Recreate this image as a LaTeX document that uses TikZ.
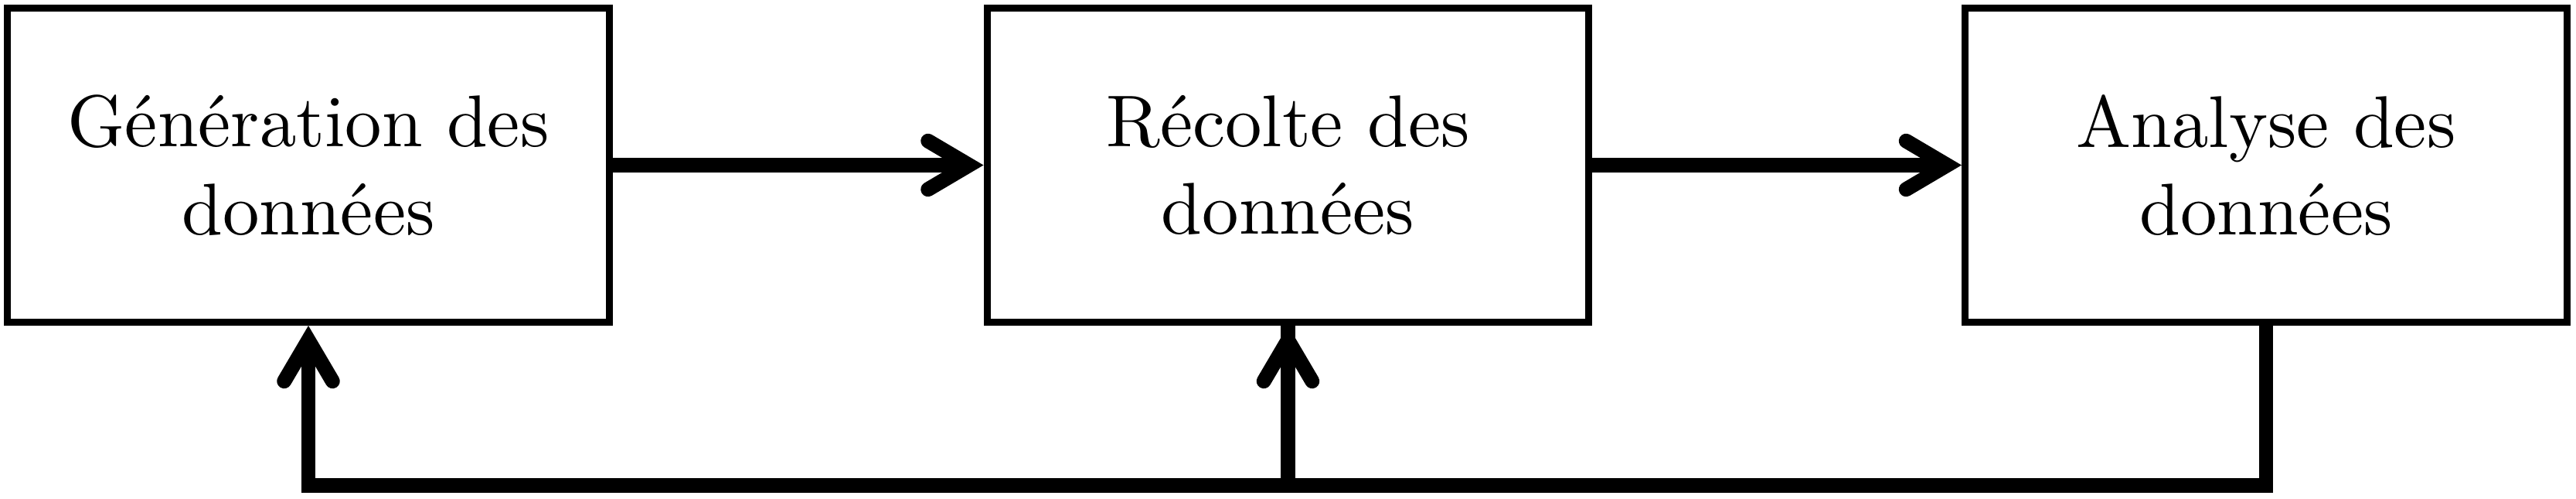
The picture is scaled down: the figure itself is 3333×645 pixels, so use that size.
\documentclass[tikz,border=0pt]{standalone}
\usepackage{fontspec}
\usetikzlibrary{arrows.meta}
\tikzset{
  stage/.style={draw, line width=0.95pt, minimum width=82.18pt, minimum height=42.83pt, align=center, inner sep=0pt, font=\fontsize{10pt}{12pt}\selectfont},
  flow/.style={line width=2pt, -{Straight Barb[length=5.6pt,width=6.6pt,line cap=round]}},
  link/.style={line width=2pt}
}
\begin{document}
\begin{tikzpicture}[x=0.1055pt, y=-0.1055pt]
\useasboundingbox (0,0) rectangle (3333,645);
\node[stage] (gen) at (399,213.5) {Génération des\\données};
\node[stage] (rec) at (1666.5,213.5) {Récolte des\\données};
\node[stage] (ana) at (2932,213.5) {Analyse des\\données};
\coordinate (jr) at (2932,628);
\coordinate (jm) at (1666.5,628);
\coordinate (jl) at (399,628);
\draw[flow] (gen.east) -- (rec.west);
\draw[flow] (rec.east) -- (ana.west);
\draw[flow] (ana.south) -- (jr) -- (jl) -- (gen.south);
\draw[link] (jm) -- (rec.south);
\draw[flow] (jm) -- (rec.south);
\end{tikzpicture}
\end{document}
